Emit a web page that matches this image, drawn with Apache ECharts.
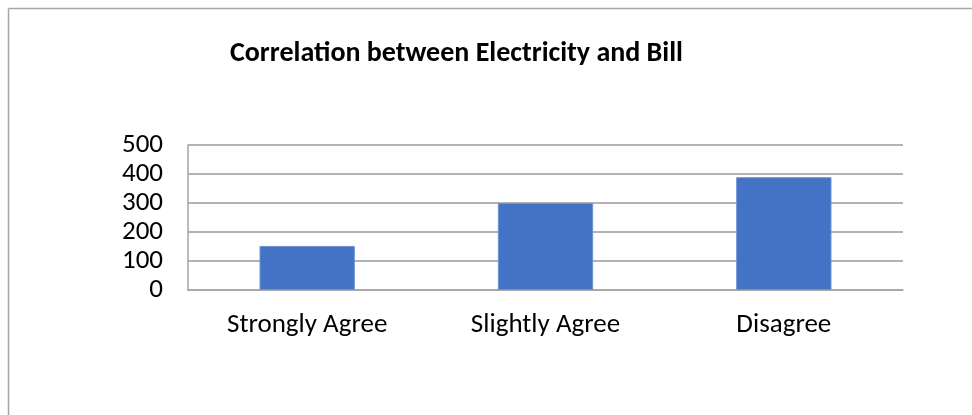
<!DOCTYPE html>
<html>
<head>
<meta charset="utf-8">
<script src="https://cdn.jsdelivr.net/npm/echarts@6/dist/echarts.min.js"></script>
<style>
  html, body { margin: 0; padding: 0; background: #ffffff; }
  #chart { width: 972px; height: 415px; }
</style>
</head>
<body>
<div id="chart"></div>
<script>
// Survey responses: correlation between electricity use and bill
const chartTitle = 'Correlation between Electricity and Bill';
const categories = ['Strongly Agree', 'Slightly Agree', 'Disagree'];
const responses = [152, 300, 389];
const yTicks = [0, 100, 200, 300, 400, 500];

const FONT = "Carlito, 'Liberation Sans Narrow', 'Open Sans', sans-serif";

const chart = echarts.init(document.getElementById('chart'), null, { renderer: 'canvas' });

chart.setOption({
  backgroundColor: '#ffffff',
  animation: false,
  title: {
    text: chartTitle,
    left: 230,
    top: 40,
    padding: 0,
    textStyle: { fontFamily: FONT, fontWeight: 'bold', fontSize: 28, color: '#000000' }
  },
  graphic: [
    // outer frame (left and top edges visible)
    { type: 'line', shape: { x1: 8.5, y1: 8.5, x2: 972, y2: 8.5 }, style: { stroke: '#a6a6a6', lineWidth: 1.5 } },
    { type: 'line', shape: { x1: 8.5, y1: 8.5, x2: 8.5, y2: 415 }, style: { stroke: '#a6a6a6', lineWidth: 1.5 } }
  ],
  grid: { left: 188, right: 69, top: 145, bottom: 125, containLabel: false },
  xAxis: {
    type: 'category',
    data: categories,
    axisLine: { lineStyle: { color: '#a6a6a6', width: 1.5 } },
    axisTick: { show: false },
    axisLabel: { fontFamily: FONT, fontSize: 27, color: '#000000', margin: 22 }
  },
  yAxis: {
    type: 'value',
    min: yTicks[0],
    max: yTicks[yTicks.length - 1],
    interval: yTicks[1] - yTicks[0],
    axisLine: { show: true, lineStyle: { color: '#a6a6a6', width: 1.5 } },
    axisTick: { show: false },
    splitLine: { lineStyle: { color: '#9a9a9a', width: 1.5 } },
    axisLabel: { fontFamily: FONT, fontSize: 27, color: '#000000', margin: 25 }
  },
  series: [{
    type: 'bar',
    data: responses,
    barWidth: '40%',
    itemStyle: { color: '#4472c4', borderColor: '#6f93d3', borderWidth: 1 }
  }]
});
</script>
</body>
</html>
